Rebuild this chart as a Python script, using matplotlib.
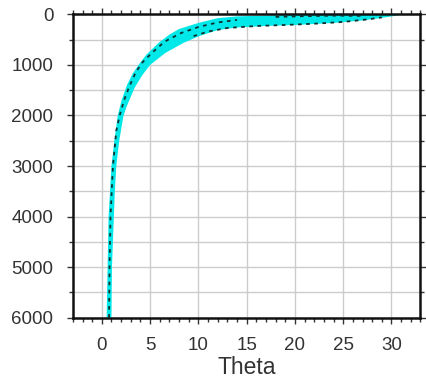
import matplotlib.pyplot as plt
from matplotlib.ticker import MultipleLocator

plt.rcParams['font.family'] = ['Liberation Sans', 'DejaVu Sans']

# cyan envelope of all profiles: upper-left edge (bottom -> surface), lower-right edge (surface -> bottom)
ul_theta = [0.5, 0.6, 0.7, 0.85, 1.0, 1.3, 1.65, 2.05, 2.6, 3.2, 3.8, 4.6, 5.9, 7.0, 8.0, 10, 12, 14, 17, 20, 24, 30.7]
ul_depth = [6000, 5000, 4000, 3500, 3000, 2500, 2000, 1700, 1400, 1170, 1000, 800, 560, 400, 290, 170, 75, 40, 25, 5, 0, 0]
lr_theta = [30.7, 29, 27, 24, 20, 17, 14, 12, 10.1, 8.5, 6.6, 5.0, 4.2, 3.4, 2.6, 2.25, 1.8, 1.5, 1.35, 1.25, 1.05, 1.0]
lr_depth = [20, 70, 120, 170, 210, 230, 260, 310, 430, 560, 760, 1000, 1200, 1450, 1810, 2000, 2500, 3000, 3500, 4000, 5000, 6000]

# black observed profiles inside the envelope
prof1_theta = [0.75, 0.8, 0.9, 1.15, 1.5, 1.85, 2.3, 2.8, 3.5, 4.2, 5.2, 6.5, 8.2, 10, 12, 14]
prof1_depth = [6000, 5000, 4000, 3000, 2300, 2000, 1700, 1450, 1150, 950, 760, 540, 370, 250, 160, 110]
prof2_theta = [9.5, 11, 13, 16, 19, 22, 25, 27.5, 29]
prof2_depth = [430, 340, 270, 230, 210, 185, 150, 100, 60]
prof3_theta = [18, 21, 24, 27]
prof3_depth = [50, 35, 25, 30]

fig = plt.figure(figsize=(4.26, 3.88), dpi=100)
ax = fig.add_axes([0.171, 0.181, 0.816, 0.782])

ax.fill(ul_theta + lr_theta, ul_depth + lr_depth, color='#00e8e8', lw=0, zorder=2)
for th, dp in [(prof1_theta, prof1_depth), (prof2_theta, prof2_depth), (prof3_theta, prof3_depth)]:
    ax.plot(th, dp, color='#103030', lw=1.3, ls=(0, (2, 2.5)), zorder=3)

ax.set_xlim(-3, 33)
ax.set_ylim(6000, 0)
ax.xaxis.set_major_locator(MultipleLocator(5))
ax.xaxis.set_minor_locator(MultipleLocator(1))
ax.yaxis.set_major_locator(MultipleLocator(1000))
ax.yaxis.set_minor_locator(MultipleLocator(500))
ax.set_xticks(range(0, 31, 5))

ax.grid(True, which='major', color='#cccccc', lw=1.0, zorder=0)
ax.grid(True, which='minor', axis='y', color='#cccccc', lw=1.0, zorder=0)
ax.set_axisbelow(True)

for s in ax.spines.values():
    s.set_linewidth(1.8)
    s.set_color('#111111')

ax.tick_params(which='both', direction='out', top=True, right=True, color='#333333')
ax.tick_params(which='major', length=4, width=1, pad=10, labelsize=13.5, labelcolor='#333333')
ax.tick_params(which='minor', length=3, width=1)

ax.set_xlabel('Theta', fontsize=16.5, color='#333333', labelpad=1)

fig.savefig('out.png', dpi=100)
